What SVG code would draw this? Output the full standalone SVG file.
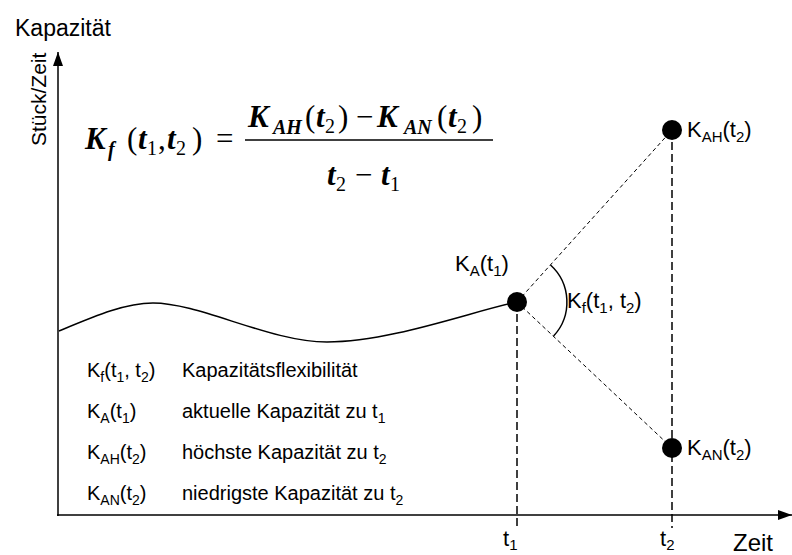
<svg xmlns="http://www.w3.org/2000/svg" width="792" height="555" viewBox="0 0 792 555">
<style>
.lbl{font-family:"Liberation Sans",Arial,sans-serif;font-size:22px;fill:#000}
.lg{font-size:20px}
.sub{font-size:15px}
.lg .sub{font-size:14px}
.m{font-family:"Liberation Serif","Times New Roman",serif;font-size:31px;fill:#000}
.bi{font-weight:bold;font-style:italic}
.ms{font-size:20px}
.axis{stroke:#000;stroke-width:1.5;fill:none}
.vd{stroke:#000;stroke-width:1.5;stroke-dasharray:8 4;fill:none}
.dd{stroke:#000;stroke-width:1;stroke-dasharray:4 3;fill:none}
.pt{fill:#000}
</style>
<defs>
<marker id="arr" viewBox="0 0 14 10" refX="14" refY="5" markerWidth="14" markerHeight="10" markerUnits="userSpaceOnUse" orient="auto">
<path d="M0,0 L14,5 L0,10 Z" fill="#000"/>
</marker>
</defs>

<g id="axes">
<line class="axis" x1="58" y1="516" x2="58" y2="52" marker-end="url(#arr)"/>
<line class="axis" x1="57" y1="515" x2="792" y2="515" marker-end="url(#arr)"/>
<text class="lbl" x="15" y="36" style="font-size:23px">Kapazität</text>
<text class="lbl" transform="translate(46,146) rotate(-90)" style="font-size:21px">Stück/Zeit</text>
<text class="lbl" x="733" y="551" style="font-size:24px">Zeit</text>
<text class="lbl" x="503" y="546">t<tspan class="sub" dy="4">1</tspan></text>
<text class="lbl" x="660" y="546">t<tspan class="sub" dy="4">2</tspan></text>
</g>

<g id="connectors">
<path class="axis" d="M59,331 C95,316 125,303 153,303 C200,303 270,342 327,342 C390,342 470,312 517,302"/>
<line class="vd" x1="517" y1="302" x2="517" y2="528"/>
<line class="vd" x1="672" y1="130" x2="672" y2="528"/>
<line class="dd" x1="517" y1="302" x2="672" y2="130"/>
<line class="dd" x1="517" y1="302" x2="672" y2="448"/>
<path class="axis" d="M550.5,265 A50,50 0 0 1 553.6,336"/>
</g>

<g id="node-KA">
<circle class="pt" cx="517" cy="302" r="10"/>
<text class="lbl" x="455" y="271">K<tspan class="sub" dy="5">A</tspan><tspan dy="-5">(t</tspan><tspan class="sub" dy="5">1</tspan><tspan dy="-5">)</tspan></text>
</g>
<g id="node-Kf">
<text class="lbl" x="567" y="308">K<tspan class="sub" dy="5">f</tspan><tspan dy="-5">(t</tspan><tspan class="sub" dy="5">1</tspan><tspan dy="-5">, t</tspan><tspan class="sub" dy="5">2</tspan><tspan dy="-5">)</tspan></text>
</g>
<g id="node-KAH">
<circle class="pt" cx="672" cy="130" r="10"/>
<text class="lbl" x="687" y="137">K<tspan class="sub" dy="5">AH</tspan><tspan dy="-5">(t</tspan><tspan class="sub" dy="5">2</tspan><tspan dy="-5">)</tspan></text>
</g>
<g id="node-KAN">
<circle class="pt" cx="672" cy="448" r="10"/>
<text class="lbl" x="687" y="455">K<tspan class="sub" dy="5">AN</tspan><tspan dy="-5">(t</tspan><tspan class="sub" dy="5">2</tspan><tspan dy="-5">)</tspan></text>
</g>

<g id="formula">
<text class="m" y="149"><tspan class="bi" x="85">K</tspan><tspan class="bi ms" x="108" dy="7">f</tspan><tspan x="127" dy="-7">(</tspan><tspan class="bi" x="138">t</tspan><tspan class="ms" x="147" dy="6">1</tspan><tspan x="158" dy="-6">,</tspan><tspan class="bi" x="167">t</tspan><tspan class="ms" x="176" dy="6">2</tspan><tspan x="192" dy="-6">)</tspan><tspan x="216">=</tspan></text>
<text class="m" y="127"><tspan class="bi" x="248">K</tspan><tspan class="bi ms" x="273" dy="7">AH</tspan><tspan x="305" dy="-7">(</tspan><tspan class="bi" x="316">t</tspan><tspan class="ms" x="325" dy="6">2</tspan><tspan x="338" dy="-6">)</tspan><tspan x="356">−</tspan><tspan class="bi" x="377">K</tspan><tspan class="bi ms" x="404" dy="7">AN</tspan><tspan x="437" dy="-7">(</tspan><tspan class="bi" x="448">t</tspan><tspan class="ms" x="457" dy="6">2</tspan><tspan x="472" dy="-6">)</tspan></text>
<line x1="245" y1="140" x2="493" y2="140" stroke="#000" stroke-width="1.5"/>
<text class="m" y="185"><tspan class="bi" x="327">t</tspan><tspan class="ms" x="336" dy="6">2</tspan><tspan x="355" dy="-6">−</tspan><tspan class="bi" x="381">t</tspan><tspan class="ms" x="390" dy="6">1</tspan></text>
</g>

<g id="legend">
<text class="lbl lg" x="87" y="377">K<tspan class="sub" dy="5">f</tspan><tspan dy="-5">(t</tspan><tspan class="sub" dy="5">1</tspan><tspan dy="-5">, t</tspan><tspan class="sub" dy="5">2</tspan><tspan dy="-5">)</tspan></text>
<text class="lbl lg" x="182" y="377">Kapazitätsflexibilität</text>
<text class="lbl lg" x="87" y="418">K<tspan class="sub" dy="5">A</tspan><tspan dy="-5">(t</tspan><tspan class="sub" dy="5">1</tspan><tspan dy="-5">)</tspan></text>
<text class="lbl lg" x="182" y="418">aktuelle Kapazität zu t<tspan class="sub" dy="5">1</tspan></text>
<text class="lbl lg" x="87" y="459">K<tspan class="sub" dy="5">AH</tspan><tspan dy="-5">(t</tspan><tspan class="sub" dy="5">2</tspan><tspan dy="-5">)</tspan></text>
<text class="lbl lg" x="182" y="459">höchste Kapazität zu t<tspan class="sub" dy="5">2</tspan></text>
<text class="lbl lg" x="87" y="500">K<tspan class="sub" dy="5">AN</tspan><tspan dy="-5">(t</tspan><tspan class="sub" dy="5">2</tspan><tspan dy="-5">)</tspan></text>
<text class="lbl lg" x="182" y="500">niedrigste Kapazität zu t<tspan class="sub" dy="5">2</tspan></text>
</g>
</svg>
